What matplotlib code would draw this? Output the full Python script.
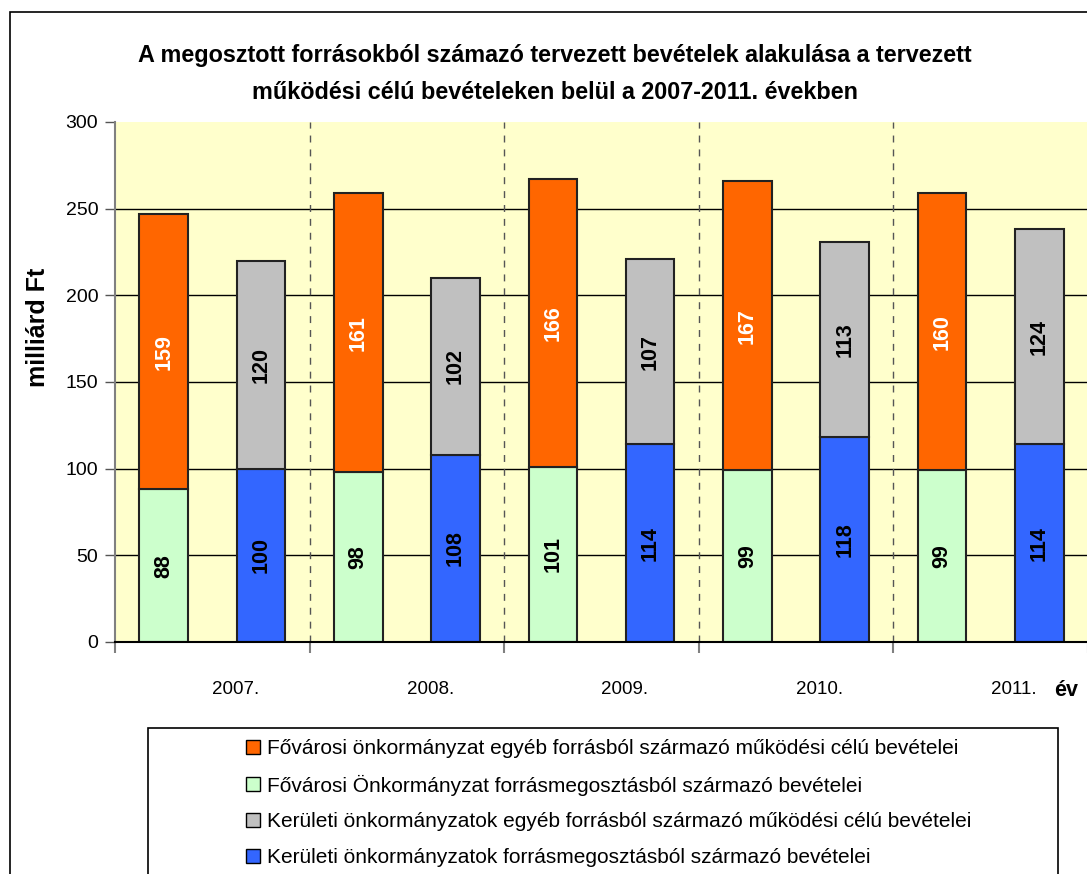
import matplotlib
matplotlib.use("Agg")
import matplotlib.pyplot as plt
from matplotlib.patches import Rectangle, Patch
import numpy as np

plt.rcParams['font.family'] = ['Liberation Sans', 'DejaVu Sans']

years = ["2007.", "2008.", "2009.", "2010.", "2011."]
fov_megoszt = [88, 98, 101, 99, 99]          # light green
fov_egyeb = [159, 161, 166, 167, 160]         # orange
ker_megoszt = [100, 108, 114, 118, 114]       # blue
ker_egyeb = [120, 102, 107, 113, 124]         # gray

labels = [
    "Fővárosi önkormányzat egyéb forrásból származó működési célú bevételei",
    "Fővárosi Önkormányzat forrásmegosztásból származó bevételei",
    "Kerületi önkormányzatok egyéb forrásból származó működési célú bevételei",
    "Kerületi önkormányzatok forrásmegosztásból származó bevételei",
]
title = ("A megosztott forrásokból számazó tervezett bevételek alakulása a tervezett\n"
         "működési célú bevételeken belül a 2007-2011. években")

C_OR = "#FF6600"
C_GR = "#CCFFCC"
C_GY = "#C0C0C0"
C_BL = "#3366FF"
BG = "#FFFFCC"

W, H = 1087, 874
fig = plt.figure(figsize=(W / 100, H / 100), dpi=100)

def px(x0, y0, x1, y1):
    return [x0 / W, 1 - y1 / H, (x1 - x0) / W, (y1 - y0) / H]

# figure border
fig.patches.append(Rectangle((10 / W, -0.1), 1.2, 1 - 12 / H + 0.1, transform=fig.transFigure,
                             fill=False, edgecolor="black", lw=1.2, zorder=0))

ax = fig.add_axes(px(115, 122, 1088, 642))
ax.set_facecolor(BG)
ax.set_xlim(0, 5)
ax.set_ylim(0, 300)

n = len(years)
idx = np.arange(n)
w = 0.25
xl = idx + 0.25
xr = idx + 0.75

for y in [50, 100, 150, 200, 250]:
    ax.axhline(y, color="black", lw=1, zorder=1)
for x in range(1, n):
    ax.axvline(x, color="#555555", lw=1, ls=(0, (5, 5)), zorder=1)

ek = dict(edgecolor="#222222", linewidth=1.5, zorder=3)
b1 = ax.bar(xl, fov_megoszt, w, color=C_GR, **ek)
b2 = ax.bar(xl, fov_egyeb, w, bottom=fov_megoszt, color=C_OR, **ek)
b3 = ax.bar(xr, ker_megoszt, w, color=C_BL, **ek)
b4 = ax.bar(xr, ker_egyeb, w, bottom=ker_megoszt, color=C_GY, **ek)

lk = dict(rotation=90, ha="center", va="center", fontsize=15.5, fontweight="bold", zorder=5)
for i in range(n):
    ax.text(xl[i], fov_megoszt[i] / 2, str(fov_megoszt[i]), color="black", **lk)
    ax.text(xl[i], fov_megoszt[i] + fov_egyeb[i] / 2, str(fov_egyeb[i]), color="white", **lk)
    ax.text(xr[i], ker_megoszt[i] / 2, str(ker_megoszt[i]), color="black", **lk)
    ax.text(xr[i], ker_megoszt[i] + ker_egyeb[i] / 2, str(ker_egyeb[i]), color="black", **lk)

for s in ["top", "right"]:
    ax.spines[s].set_visible(False)
ax.spines["left"].set_color("#808080")
ax.spines["left"].set_linewidth(1.5)
ax.spines["bottom"].set_color("black")
ax.spines["bottom"].set_linewidth(1.5)
ax.spines["bottom"].set_zorder(6)

ax.set_yticks([0, 50, 100, 150, 200, 250, 300])
ax.tick_params(axis="y", direction="out", length=7, width=1, color="#555555",
               labelsize=14, pad=5)
ax.set_xticks(range(n + 1))
ax.set_xticklabels([""] * (n + 1))
ax.tick_params(axis="x", which="major", direction="out", length=8, width=1.5, color="#808080")
ax.set_xticks(idx + 0.62, minor=True)
ax.set_xticklabels(years, minor=True)
ax.tick_params(axis="x", which="minor", length=0, labelsize=13.5, pad=28)

fig.text(38 / W, 1 - 327 / H, "milliárd Ft", rotation=90, ha="center", va="center",
         fontsize=18, fontweight="bold")
fig.text(1066 / W, 1 - 690 / H, "év", ha="center", va="center", fontsize=15.5, fontweight="bold")
fig.text(555 / W, 1 - 74 / H, title, ha="center", va="center", fontsize=16.8,
         fontweight="bold", linespacing=1.8)

# legend box
fig.patches.append(Rectangle((148 / W, -0.1), (1058 - 148) / W, 0.1 + 1 - 728 / H,
                             transform=fig.transFigure, fill=False, edgecolor="black", lw=1.2))
handles = [Patch(facecolor=C_OR, edgecolor="black"),
           Patch(facecolor=C_GR, edgecolor="black"),
           Patch(facecolor=C_GY, edgecolor="black"),
           Patch(facecolor=C_BL, edgecolor="black")]
fig.legend(handles, labels, loc="upper left", bbox_to_anchor=(246 / W, 1 - 739 / H),
           frameon=False, fontsize=15, handlelength=0.65, handleheight=0.65,
           handletextpad=0.35, labelspacing=0.8, borderaxespad=0, borderpad=0)

fig.savefig("out.png", dpi=100)
